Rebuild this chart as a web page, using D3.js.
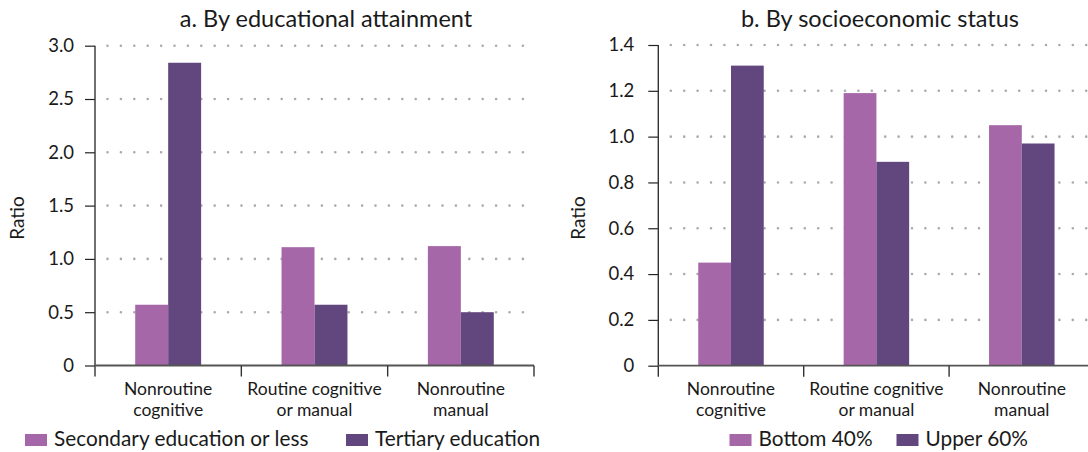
<!DOCTYPE html>
<html>
<head>
<meta charset="utf-8">
<script src="https://cdn.jsdelivr.net/npm/d3@7"></script>
<style>
  html, body { margin: 0; padding: 0; background: #fff; }
  svg { display: block; font-family: Lato, "Noto Sans", sans-serif; }
</style>
</head>
<body>
<svg id="chart" width="1088" height="452"></svg>
<script>
// Occupation groups shared by both panels (two-line labels)
const categories = ["Nonroutine cognitive", "Routine cognitive or manual", "Nonroutine manual"];
const categoryLines = [["Nonroutine", "cognitive"], ["Routine cognitive", "or manual"], ["Nonroutine", "manual"]];

// Panel a: by educational attainment
const eduSeries = ["Secondary education or less", "Tertiary education"];
const eduSecondary = [0.57, 1.11, 1.12];
const eduTertiary = [2.84, 0.57, 0.50];
const eduTicks = [0, 0.5, 1.0, 1.5, 2.0, 2.5, 3.0];
const eduTickLabels = ["0", "0.5", "1.0", "1.5", "2.0", "2.5", "3.0"];

// Panel b: by socioeconomic status
const sesSeries = ["Bottom 40%", "Upper 60%"];
const sesBottom = [0.45, 1.19, 1.05];
const sesUpper = [1.31, 0.89, 0.97];
const sesTicks = [0, 0.2, 0.4, 0.6, 0.8, 1.0, 1.2, 1.4];
const sesTickLabels = ["0", "0.2", "0.4", "0.6", "0.8", "1.0", "1.2", "1.4"];

const colors = ["#a567a7", "#61477e"];

const svg = d3.select("#chart");

function drawPanel(opt) {
  const g = svg.append("g");
  const { left, right, top, bottom } = opt;

  const x = d3.scaleBand().domain(categories).range([left, right]).padding(0);
  const x1 = d3.scaleBand().domain(opt.series).range([0, x.bandwidth()])
    .paddingInner(0).paddingOuter(1.22);
  const y = d3.scaleLinear().domain([0, opt.max]).range([bottom, top]);

  // dotted gridlines
  g.append("g").selectAll("line")
    .data(opt.ticks.filter(t => t > 0))
    .join("line")
    .attr("x1", left + 12.5).attr("x2", right)
    .attr("y1", d => y(d)).attr("y2", d => y(d))
    .attr("stroke", "#aaaaaa")
    .attr("stroke-width", 2.6)
    .attr("stroke-linecap", "round")
    .attr("stroke-dasharray", "0 13.4");

  // bars
  const rows = categories.map((c, i) => ({ c, vals: opt.values.map(v => v[i]) }));
  g.append("g").selectAll("g")
    .data(rows)
    .join("g")
    .attr("transform", d => `translate(${x(d.c)},0)`)
    .selectAll("rect")
    .data(d => d.vals.map((v, k) => ({ s: opt.series[k], v, k })))
    .join("rect")
    .attr("x", d => x1(d.s))
    .attr("width", x1.bandwidth())
    .attr("y", d => y(d.v))
    .attr("height", d => y(0) - y(d.v))
    .attr("fill", d => colors[d.k]);

  // y axis
  const yAxis = d3.axisLeft(y)
    .tickValues(opt.ticks)
    .tickFormat((d, i) => opt.tickLabels[i])
    .tickSize(10)
    .tickPadding(opt.tickPad);
  const ya = g.append("g").attr("transform", `translate(${left},0)`).call(yAxis);
  ya.select(".domain").remove();
  ya.selectAll(".tick line").attr("stroke", "#222").attr("stroke-width", 1.2);
  ya.selectAll(".tick text")
    .attr("fill", "#1a1a1a")
    .style("font-size", "18.5px")
    .style("font-family", "Lato, 'Noto Sans', sans-serif");
  g.append("line")
    .attr("x1", left).attr("x2", left)
    .attr("y1", y(opt.max)).attr("y2", bottom + 11)
    .attr("stroke", "#333").attr("stroke-width", 1.4);

  // x baseline and group separators
  g.append("line")
    .attr("x1", left).attr("x2", right)
    .attr("y1", bottom).attr("y2", bottom)
    .attr("stroke", "#555").attr("stroke-width", 1.8);
  const bounds = categories.map(c => x(c)).concat([right]).slice(1);
  g.append("g").selectAll("line")
    .data(bounds)
    .join("line")
    .attr("x1", d => d).attr("x2", d => d)
    .attr("y1", bottom).attr("y2", bottom + 11)
    .attr("stroke", "#333").attr("stroke-width", 1.4);

  // category labels
  const lab = g.append("g").selectAll("text")
    .data(categories)
    .join("text")
    .attr("x", d => x(d) + x.bandwidth() / 2)
    .attr("y", bottom + 29)
    .attr("text-anchor", "middle")
    .attr("fill", "#1a1a1a")
    .style("font-size", "17.5px");
  lab.selectAll("tspan")
    .data((d, i) => categoryLines[i])
    .join("tspan")
    .attr("x", function () { return d3.select(this.parentNode).attr("x"); })
    .attr("dy", (d, i) => i === 0 ? 0 : 21.5)
    .text(d => d);

  // axis title
  g.append("text")
    .attr("transform", `translate(${opt.ratioX},218) rotate(-90)`)
    .attr("text-anchor", "middle")
    .attr("fill", "#1a1a1a")
    .style("font-size", "19px")
    .text("Ratio");

  // panel title
  g.append("text")
    .attr("x", opt.titleX).attr("y", 27)
    .attr("text-anchor", "middle")
    .attr("fill", "#1a1a1a")
    .style("font-size", "23.5px")
    .text(opt.title);

  // legend
  const leg = g.append("g").selectAll("g")
    .data(opt.series)
    .join("g")
    .attr("transform", (d, i) => `translate(${opt.legendX[i]},0)`);
  leg.append("rect")
    .attr("x", 0).attr("y", 434)
    .attr("width", 22).attr("height", 12)
    .attr("fill", (d, i) => colors[i]);
  leg.append("text")
    .attr("x", opt.legendGap).attr("y", 446)
    .attr("fill", "#1a1a1a")
    .style("font-size", "20.8px")
    .text(d => d);
}

drawPanel({
  left: 95, right: 534, top: 45.7, bottom: 365.5,
  max: 3.0, ticks: eduTicks, tickLabels: eduTickLabels,
  series: eduSeries, values: [eduSecondary, eduTertiary],
  title: "a. By educational attainment", titleX: 326,
  ratioX: 24, tickPad: 11,
  legendX: [25, 346], legendGap: 29
});

drawPanel({
  left: 658.3, right: 1094.5, top: 45, bottom: 365.7,
  max: 1.4, ticks: sesTicks, tickLabels: sesTickLabels,
  series: sesSeries, values: [sesBottom, sesUpper],
  title: "b. By socioeconomic status", titleX: 880,
  ratioX: 585, tickPad: 14,
  legendX: [729.5, 896.5], legendGap: 29
});
</script>
</body>
</html>
